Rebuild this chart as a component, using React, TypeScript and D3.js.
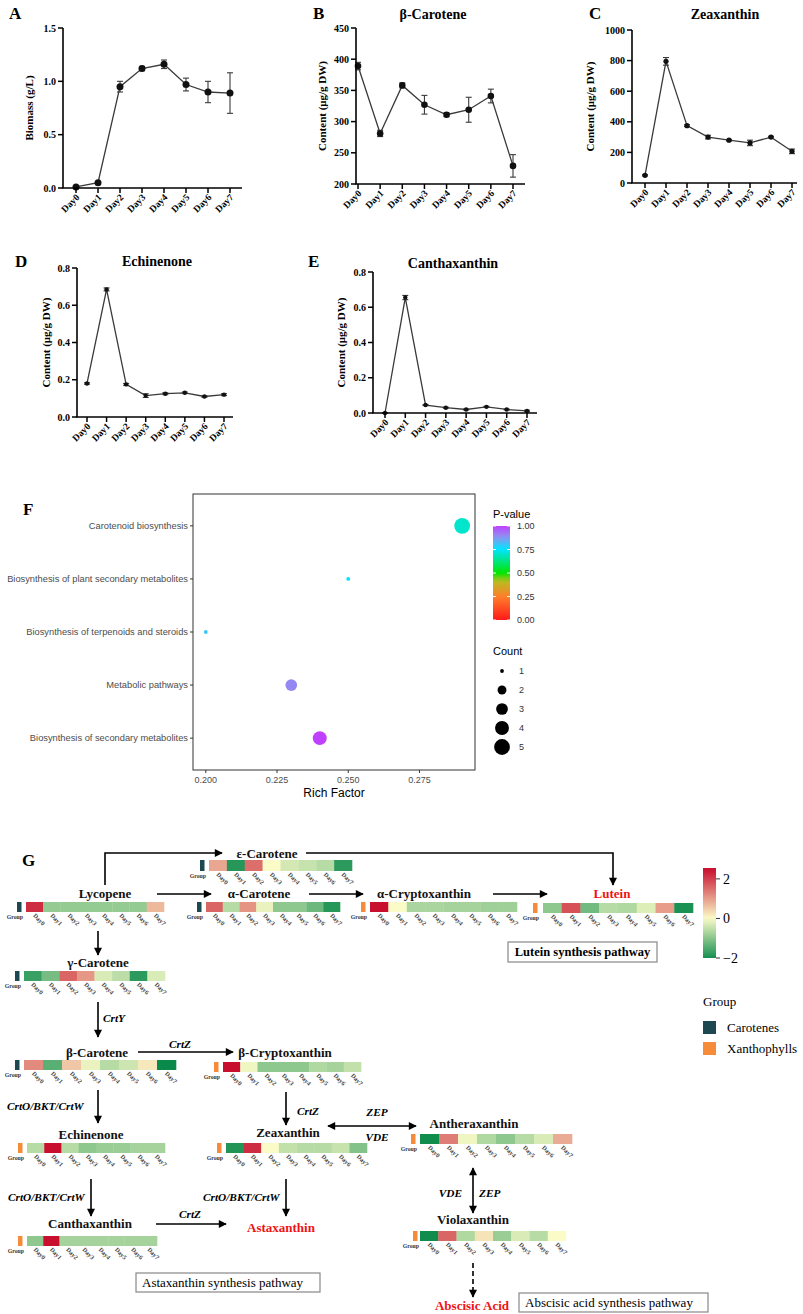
import React from 'react';
import * as d3 from 'd3';

// ---------------- DATA ----------------
const days = ['Day0', 'Day1', 'Day2', 'Day3', 'Day4', 'Day5', 'Day6', 'Day7'];

const biomass = [0.01, 0.05, 0.95, 1.12, 1.16, 0.97, 0.9, 0.89];
const biomassErr = [0.005, 0.005, 0.05, 0.02, 0.04, 0.06, 0.1, 0.19];
const betaCarotene = [389, 281, 358, 327, 311, 319, 341, 229];
const betaCaroteneErr = [6, 5, 4, 15, 3, 20, 11, 18];
const zeaxanthin = [50, 795, 375, 300, 280, 262, 300, 207];
const zeaxanthinErr = [4, 25, 6, 12, 5, 18, 5, 15];
const echinenone = [0.18, 0.685, 0.175, 0.115, 0.125, 0.13, 0.11, 0.12];
const echinenoneErr = [0.004, 0.008, 0.005, 0.01, 0.005, 0.004, 0.004, 0.005];
const canthaxanthin = [0.0, 0.655, 0.045, 0.03, 0.02, 0.035, 0.02, 0.012];
const canthaxanthinErr = [0.002, 0.012, 0.003, 0.003, 0.003, 0.003, 0.003, 0.004];

const pathways = [
  'Carotenoid biosynthesis',
  'Biosynthesis of plant secondary metabolites',
  'Biosynthesis of terpenoids and steroids',
  'Metabolic pathways',
  'Biosynthesis of secondary metabolites',
];
const richFactor = [0.29, 0.25, 0.2, 0.23, 0.24];
const pValue = [0.7, 0.75, 0.8, 0.9, 1.0];
const geneCount = [5, 1, 1, 3, 4];
const richTicks = [0.2, 0.225, 0.25, 0.275];
const pTicks = [0, 0.25, 0.5, 0.75, 1];
const countTicks = [1, 2, 3, 4, 5];

// heatmap z-scores (Day0..Day7)
const hmEpsCarotene = [0.9, -1.85, 1.5, 0.0, -0.35, -0.45, -0.6, -1.8];
const hmLycopene = [2.2, -0.9, -0.9, -0.9, -0.9, -0.9, -0.9, 0.7];
const hmAlphaCarotene = [1.6, -0.6, 1.1, -0.15, -0.95, -0.95, -1.25, -1.85];
const hmAlphaCrypto = [2.5, 0.0, -0.7, -0.7, -0.75, -0.75, -0.8, -0.8];
const hmLutein = [-0.95, 1.8, -1.2, -0.6, -0.65, -0.25, 1.0, -1.95];
const hmGammaCarotene = [-1.7, -1.15, 1.6, 1.05, -0.3, -0.55, -1.8, -0.3];
const hmBetaCarotene = [1.2, -1.4, 0.55, -0.15, -0.6, -0.4, 0.2, -2.1];
const hmBetaCrypto = [2.5, -0.1, -0.95, -0.95, -0.95, -0.65, -0.75, -0.5];
const hmEchinenone = [-0.6, 2.5, -0.6, -0.95, -0.85, -0.85, -0.75, -0.75];
const hmZeaxanthin = [-1.9, 2.2, 0.0, -0.5, -0.6, -0.6, -0.45, -1.05];
const hmAntheraxanthin = [-2.05, 1.35, -0.1, -0.65, -0.95, -0.6, -0.3, 0.85];
const hmCanthaxanthin = [-0.95, 2.5, -0.75, -0.75, -0.75, -0.75, -0.75, -0.75];
const hmViolaxanthin = [-2.05, 1.6, -0.65, 0.25, -0.85, -0.3, -0.6, 0.0];
const heatTicks = [2, 0, -2];

const groups = ['Carotenes', 'Xanthophylls'];
const groupColors = ['#1d4850', '#f68b39'];

// ---------------- STYLE ----------------
const serif = "'Liberation Serif','Times New Roman',serif";
const sans = "'Liberation Sans',Arial,sans-serif";

const heatColor = d3
  .scaleLinear<string>()
  .domain([-2.1, 0, 2.5])
  .range(['#0a8a4a', '#fbfbc8', '#c8102e'])
  .clamp(true);

const pColor = d3
  .scaleLinear<string>()
  .domain([0, 0.25, 0.42, 0.5, 0.75, 0.88, 1])
  .range(['#ff1a1a', '#ff7f2a', '#b5c01f', '#00e600', '#00e5ff', '#8c96f0', '#c040ff']);

// ---------------- LINE PANELS ----------------
type LP = {
  axisX: number; yTop: number; yBot: number; xFirst: number; xLast: number; xEnd: number;
  letterX: number; letterY: number; titleX: number; titleY: number; ylabX: number; r: number;
};

function LinePanel(props: {
  L: LP; values: number[]; errors: number[]; domain: [number, number]; ticks: number[];
  fmt: string; ylabel: string; title?: string; letter: string;
}) {
  const { L, values, errors, domain, ticks, fmt, ylabel, title, letter } = props;
  const x = d3.scalePoint<string>().domain(days).range([L.xFirst, L.xLast]);
  const y = d3.scaleLinear().domain(domain).range([L.yBot, L.yTop]);
  const line = d3
    .line<number>()
    .x((_, i) => x(days[i]) as number)
    .y((d) => y(d));
  const f = d3.format(fmt);
  const ymid = (L.yTop + L.yBot) / 2;
  return (
    <g fontFamily={serif}>
      <text x={L.letterX} y={L.letterY} fontSize={17} fontWeight="bold">{letter}</text>
      {title && (
        <text x={L.titleX} y={L.titleY} textAnchor="middle" fontSize={14} fontWeight="bold">{title}</text>
      )}
      <path d={line(values) || ''} fill="none" stroke="#3a3a3a" strokeWidth={1.3} />
      {values.map((v, i) => {
        const cx = x(days[i]) as number;
        const e = errors[i];
        return (
          <g key={i} stroke="#3a3a3a" strokeWidth={1.1}>
            <line x1={cx} x2={cx} y1={y(v - e)} y2={y(v + e)} />
            <line x1={cx - 3} x2={cx + 3} y1={y(v - e)} y2={y(v - e)} />
            <line x1={cx - 3} x2={cx + 3} y1={y(v + e)} y2={y(v + e)} />
          </g>
        );
      })}
      {values.map((v, i) => (
        <circle key={i} cx={x(days[i]) as number} cy={y(v)} r={L.r} fill="#111" />
      ))}
      <line x1={L.axisX} x2={L.axisX} y1={L.yTop} y2={L.yBot} stroke="#000" strokeWidth={1.6} />
      <line x1={L.axisX - 0.8} x2={L.xEnd} y1={L.yBot} y2={L.yBot} stroke="#000" strokeWidth={1.6} />
      {ticks.map((t) => (
        <g key={t}>
          <line x1={L.axisX - 5} x2={L.axisX} y1={y(t)} y2={y(t)} stroke="#000" strokeWidth={1.5} />
          <text x={L.axisX - 7} y={y(t)} dy="0.35em" textAnchor="end" fontSize={10} fontWeight="bold">
            {f(t)}
          </text>
        </g>
      ))}
      {days.map((d) => {
        const tx = x(d) as number;
        return (
          <g key={d}>
            <line x1={tx} x2={tx} y1={L.yBot} y2={L.yBot + 5} stroke="#000" strokeWidth={1.5} />
            <text
              transform={`translate(${tx + 4},${L.yBot + 10}) rotate(-45)`}
              textAnchor="end"
              fontSize={9.5}
              fontWeight="bold"
            >
              {d}
            </text>
          </g>
        );
      })}
      <text
        transform={`translate(${L.ylabX},${ymid}) rotate(-90)`}
        textAnchor="middle"
        dy="0.35em"
        fontSize={11}
        fontWeight="bold"
      >
        {ylabel}
      </text>
    </g>
  );
}

const layA: LP = { axisX: 63, yTop: 28, yBot: 188, xFirst: 76, xLast: 230, xEnd: 242, letterX: 9, letterY: 19, titleX: 0, titleY: 0, ylabX: 29, r: 3.5 };
const layB: LP = { axisX: 356, yTop: 28, yBot: 184, xFirst: 358, xLast: 513, xEnd: 525, letterX: 313, letterY: 19, titleX: 433, titleY: 19, ylabX: 322, r: 3.3 };
const layC: LP = { axisX: 632, yTop: 30, yBot: 183, xFirst: 645, xLast: 792, xEnd: 797, letterX: 589, letterY: 19, titleX: 725, titleY: 19, ylabX: 590, r: 2.6 };
const layD: LP = { axisX: 77, yTop: 268, yBot: 417, xFirst: 87, xLast: 224, xEnd: 233, letterX: 15, letterY: 267, titleX: 157, titleY: 266, ylabX: 46, r: 2.2 };
const layE: LP = { axisX: 373, yTop: 272, yBot: 413, xFirst: 385, xLast: 527, xEnd: 537, letterX: 308, letterY: 267, titleX: 453, titleY: 268, ylabX: 341, r: 2.2 };

// ---------------- PANEL F ----------------
function BubblePanel() {
  const left = 193, right = 475, top = 494, bottom = 770;
  const x = d3.scaleLinear().domain([0.1955, 0.2945]).range([left, right]);
  const y = d3.scalePoint<string>().domain(pathways).range([top, bottom]).padding(0.6);
  const area = d3.scaleLinear().domain([1, 5]).range([1, 36]);
  const rad = (c: number) => 1.2 * Math.sqrt(area(c)) + 0.7;
  const cbTop = 526, cbBot = 620, cbL = 493, cbW = 17;
  const py = d3.scaleLinear().domain([0, 1]).range([cbBot, cbTop]);
  const stops = d3.range(0, 1.0001, 0.05);
  return (
    <g>
      <defs>
        <linearGradient id="pgrad" x1="0" y1="1" x2="0" y2="0">
          {stops.map((s) => (
            <stop key={s} offset={s} stopColor={pColor(s)} />
          ))}
        </linearGradient>
      </defs>
      <text x={23} y={515} fontFamily={serif} fontSize={17} fontWeight="bold">F</text>
      <rect x={left} y={top} width={right - left} height={bottom - top} fill="#fff" stroke="#333" strokeWidth={1} />
      {pathways.map((p, i) => (
        <circle key={p} cx={x(richFactor[i])} cy={y(p) as number} r={rad(geneCount[i])} fill={pColor(pValue[i])} />
      ))}
      {pathways.map((p) => (
        <g key={p}>
          <line x1={left - 3} x2={left} y1={y(p) as number} y2={y(p) as number} stroke="#333" />
          <text x={left - 5} y={y(p) as number} dy="0.35em" textAnchor="end" fontFamily={sans} fontSize={9.3} fill="#4d4d4d">
            {p}
          </text>
        </g>
      ))}
      {richTicks.map((t) => (
        <g key={t}>
          <line x1={x(t)} x2={x(t)} y1={bottom} y2={bottom + 3} stroke="#333" />
          <text x={x(t)} y={bottom + 13} textAnchor="middle" fontFamily={sans} fontSize={9} fill="#4d4d4d">
            {d3.format('.3f')(t)}
          </text>
        </g>
      ))}
      <text x={(left + right) / 2} y={797} textAnchor="middle" fontFamily={sans} fontSize={12}>Rich Factor</text>
      {/* P-value legend */}
      <text x={cbL} y={518} fontFamily={sans} fontSize={11}>P-value</text>
      <rect x={cbL} y={cbTop} width={cbW} height={cbBot - cbTop} fill="url(#pgrad)" />
      {pTicks.map((t) => (
        <g key={t}>
          <line x1={cbL} x2={cbL + 3} y1={py(t)} y2={py(t)} stroke="#fff" />
          <line x1={cbL + cbW - 3} x2={cbL + cbW} y1={py(t)} y2={py(t)} stroke="#fff" />
          <text x={cbL + cbW + 7} y={py(t)} dy="0.35em" fontFamily={sans} fontSize={9} fill="#333">
            {d3.format('.2f')(t)}
          </text>
        </g>
      ))}
      <text x={cbL} y={655} fontFamily={sans} fontSize={11}>Count</text>
      {countTicks.map((c, i) => (
        <g key={c}>
          <circle cx={502} cy={671 + i * 19} r={rad(c)} fill="#000" />
          <text x={519} y={671 + i * 19} dy="0.35em" fontFamily={sans} fontSize={9} fill="#333">{c}</text>
        </g>
      ))}
    </g>
  );
}

// ---------------- PANEL G ----------------
type HM = {
  title: string; values: number[]; group: number; tx: number; ty: number; red?: boolean;
  gx: number; cx0: number; cx1: number; y: number; h: number;
};

const heatmaps: HM[] = [
  { title: 'ε-Carotene', values: hmEpsCarotene, group: 0, tx: 267, ty: 858, gx: 200, cx0: 209, cx1: 352, y: 860, h: 11 },
  { title: 'Lycopene', values: hmLycopene, group: 0, tx: 105, ty: 898, gx: 17, cx0: 26, cx1: 164, y: 902, h: 10 },
  { title: 'α-Carotene', values: hmAlphaCarotene, group: 0, tx: 259, ty: 898, gx: 197, cx0: 206, cx1: 340, y: 902, h: 10 },
  { title: 'α-Cryptoxanthin', values: hmAlphaCrypto, group: 1, tx: 424, ty: 898, gx: 361, cx0: 370, cx1: 517, y: 902, h: 10 },
  { title: 'Lutein', values: hmLutein, group: 1, tx: 612, ty: 898, red: true, gx: 533, cx0: 543, cx1: 693, y: 903, h: 10 },
  { title: 'γ-Carotene', values: hmGammaCarotene, group: 0, tx: 98, ty: 967, gx: 15, cx0: 24, cx1: 165, y: 971, h: 10 },
  { title: 'β-Carotene', values: hmBetaCarotene, group: 0, tx: 97, ty: 1057, gx: 15, cx0: 24, cx1: 176, y: 1060, h: 10 },
  { title: 'β-Cryptoxanthin', values: hmBetaCrypto, group: 1, tx: 285, ty: 1057, gx: 214, cx0: 223, cx1: 361, y: 1062, h: 10 },
  { title: 'Echinenone', values: hmEchinenone, group: 1, tx: 91, ty: 1139, gx: 18, cx0: 27, cx1: 165, y: 1143, h: 10 },
  { title: 'Zeaxanthin', values: hmZeaxanthin, group: 1, tx: 288, ty: 1137, gx: 217, cx0: 226, cx1: 367, y: 1143, h: 10 },
  { title: 'Antheraxanthin', values: hmAntheraxanthin, group: 1, tx: 474, ty: 1128, gx: 411, cx0: 420, cx1: 572, y: 1134, h: 10 },
  { title: 'Canthaxanthin', values: hmCanthaxanthin, group: 1, tx: 90, ty: 1228, gx: 18, cx0: 27, cx1: 157, y: 1236, h: 10 },
  { title: 'Violaxanthin', values: hmViolaxanthin, group: 1, tx: 473, ty: 1224, gx: 413, cx0: 420, cx1: 566, y: 1231, h: 10 },
];

function Heatmap({ hm }: { hm: HM }) {
  const bx = d3.scaleBand<string>().domain(days).range([hm.cx0, hm.cx1]);
  return (
    <g fontFamily={serif}>
      <text x={hm.tx} y={hm.ty} textAnchor="middle" fontSize={13} fontWeight="bold" fill={hm.red ? '#f01414' : '#111'}>
        {hm.title}
      </text>
      <rect x={hm.gx} y={hm.y} width={4.5} height={hm.h} fill={groupColors[hm.group]} />
      <text x={hm.gx + 6} y={hm.y + hm.h + 7} textAnchor="end" fontSize={5.8} fontWeight="bold" fill="#333">Group</text>
      {days.map((d, i) => (
        <rect key={d} x={bx(d)} y={hm.y} width={bx.bandwidth() + 0.3} height={hm.h} fill={heatColor(hm.values[i])} />
      ))}
      {days.map((d) => (
        <text
          key={d}
          transform={`translate(${(bx(d) as number) + bx.bandwidth() / 2 - 2},${hm.y + hm.h + 4}) rotate(45)`}
          fontSize={6.3}
          fontWeight="bold"
          fill="#444"
        >
          {d}
        </text>
      ))}
    </g>
  );
}

function Arrow({ pts, both, dashed }: { pts: [number, number][]; both?: boolean; dashed?: boolean }) {
  const d = d3.line()(pts) || '';
  return (
    <path
      d={d}
      fill="none"
      stroke="#000"
      strokeWidth={1.6}
      strokeDasharray={dashed ? '5,3' : undefined}
      markerEnd="url(#ah)"
      markerStart={both ? 'url(#ah)' : undefined}
    />
  );
}

function Enz({ x, y, t, anchor }: { x: number; y: number; t: string; anchor?: string }) {
  return (
    <text x={x} y={y} textAnchor={anchor || 'middle'} fontFamily={serif} fontStyle="italic" fontWeight="bold" fontSize={11.3}>
      {t}
    </text>
  );
}

function PathwayPanel() {
  const cbX = 703, cbW = 13;
  const cy = d3.scaleLinear().domain([-2, 2.55]).range([958, 868]);
  const stops = d3.range(0, 1.0001, 0.05);
  return (
    <g>
      <defs>
        <marker id="ah" viewBox="0 0 10 10" refX="9" refY="5" markerWidth="9" markerHeight="8" markerUnits="userSpaceOnUse" orient="auto-start-reverse">
          <path d="M0,0 L10,5 L0,10 z" fill="#000" />
        </marker>
        <linearGradient id="hgrad" x1="0" y1="1" x2="0" y2="0">
          {stops.map((s) => (
            <stop key={s} offset={s} stopColor={heatColor(-2 + s * 4.55)} />
          ))}
        </linearGradient>
      </defs>
      <text x={22} y={866} fontFamily={serif} fontSize={17} fontWeight="bold">G</text>

      {/* arrows */}
      <Arrow pts={[[105, 885], [105, 853], [222, 853]]} />
      <Arrow pts={[[306, 853], [613, 853], [613, 885]]} />
      <Arrow pts={[[157, 894], [211, 894]]} />
      <Arrow pts={[[309, 894], [363, 894]]} />
      <Arrow pts={[[493, 894], [547, 894]]} />
      <Arrow pts={[[98, 931], [98, 955]]} />
      <Arrow pts={[[98, 1002], [98, 1037]]} />
      <Enz x={103} y={1022} t="CrtY" anchor="start" />
      <Arrow pts={[[138, 1052], [233, 1052]]} />
      <Enz x={180} y={1048} t="CrtZ" />
      <Arrow pts={[[98, 1090], [98, 1123]]} />
      <Enz x={7} y={1110} t="CrtO/BKT/CrtW" anchor="start" />
      <Arrow pts={[[286, 1092], [286, 1125]]} />
      <Enz x={297} y={1115} t="CrtZ" anchor="start" />
      <Arrow pts={[[328, 1126], [416, 1126]]} both />
      <Enz x={377} y={1116} t="ZEP" />
      <Enz x={377} y={1141} t="VDE" />
      <Arrow pts={[[91, 1179], [91, 1216]]} />
      <Enz x={8} y={1201} t="CrtO/BKT/CrtW" anchor="start" />
      <Arrow pts={[[286, 1179], [286, 1216]]} />
      <Enz x={203} y={1201} t="CrtO/BKT/CrtW" anchor="start" />
      <Arrow pts={[[473, 1168], [473, 1213]]} both />
      <Enz x={462} y={1197} t="VDE" anchor="end" />
      <Enz x={479} y={1197} t="ZEP" anchor="start" />
      <Arrow pts={[[156, 1224], [226, 1224]]} />
      <Enz x={190} y={1218} t="CrtZ" />
      <Arrow pts={[[473, 1263], [473, 1297]]} dashed />

      {heatmaps.map((hm) => (
        <Heatmap key={hm.title} hm={hm} />
      ))}

      <text x={281} y={1232} textAnchor="middle" fontFamily={serif} fontSize={13} fontWeight="bold" fill="#f01414">Astaxanthin</text>
      <text x={472} y={1310} textAnchor="middle" fontFamily={serif} fontSize={13} fontWeight="bold" fill="#f01414">Abscisic Acid</text>

      {/* pathway boxes */}
      <rect x={508} y={942} width={149} height={20} fill="#fff" stroke="#888" strokeWidth={1.2} />
      <text x={582.5} y={956} textAnchor="middle" fontFamily={serif} fontSize={12.5} fontWeight="bold">Lutein synthesis pathway</text>
      <rect x={136} y={1273} width={184} height={19} fill="#fff" stroke="#888" strokeWidth={1.2} />
      <text x={142} y={1287} fontFamily={serif} fontSize={13}>Astaxanthin synthesis pathway</text>
      <rect x={519} y={1293} width={189} height={19} fill="#fff" stroke="#888" strokeWidth={1.2} />
      <text x={525} y={1307} fontFamily={serif} fontSize={13}>Abscisic acid synthesis pathway</text>

      {/* heat colour bar */}
      <rect x={cbX} y={868} width={cbW} height={90} fill="url(#hgrad)" />
      {heatTicks.map((t) => (
        <g key={t}>
          <line x1={cbX + cbW} x2={cbX + cbW + 4} y1={cy(t)} y2={cy(t)} stroke="#333" />
          <text x={cbX + cbW + 7} y={cy(t)} dy="0.35em" fontFamily={serif} fontSize={14}>
            {t < 0 ? `\u2212${Math.abs(t)}` : t}
          </text>
        </g>
      ))}

      {/* group legend */}
      <text x={703} y={1006} fontFamily={serif} fontSize={13}>Group</text>
      {groups.map((g, i) => (
        <g key={g}>
          <rect x={703} y={1021 + i * 21} width={13} height={13} fill={groupColors[i]} />
          <text x={727} y={1031.5 + i * 21} fontFamily={serif} fontSize={13}>{g}</text>
        </g>
      ))}
    </g>
  );
}

export default function App() {
  return (
    <svg
      width={803}
      height={1314}
      viewBox="0 0 803 1314"
      style={{ position: 'absolute', left: 0, top: 0, background: '#fff' }}
    >
      <rect width={803} height={1314} fill="#fff" />
      <LinePanel L={layA} values={biomass} errors={biomassErr} domain={[0, 1.5]} ticks={[0, 0.5, 1, 1.5]} fmt=".1f" ylabel="Biomass (g/L)" letter="A" />
      <LinePanel L={layB} values={betaCarotene} errors={betaCaroteneErr} domain={[200, 450]} ticks={[200, 250, 300, 350, 400, 450]} fmt="d" ylabel="Content (μg/g DW)" title="β-Carotene" letter="B" />
      <LinePanel L={layC} values={zeaxanthin} errors={zeaxanthinErr} domain={[0, 1000]} ticks={[0, 200, 400, 600, 800, 1000]} fmt="d" ylabel="Content (μg/g DW)" title="Zeaxanthin" letter="C" />
      <LinePanel L={layD} values={echinenone} errors={echinenoneErr} domain={[0, 0.8]} ticks={[0, 0.2, 0.4, 0.6, 0.8]} fmt=".1f" ylabel="Content (μg/g DW)" title="Echinenone" letter="D" />
      <LinePanel L={layE} values={canthaxanthin} errors={canthaxanthinErr} domain={[0, 0.8]} ticks={[0, 0.2, 0.4, 0.6, 0.8]} fmt=".1f" ylabel="Content (μg/g DW)" title="Canthaxanthin" letter="E" />
      <BubblePanel />
      <PathwayPanel />
    </svg>
  );
}
